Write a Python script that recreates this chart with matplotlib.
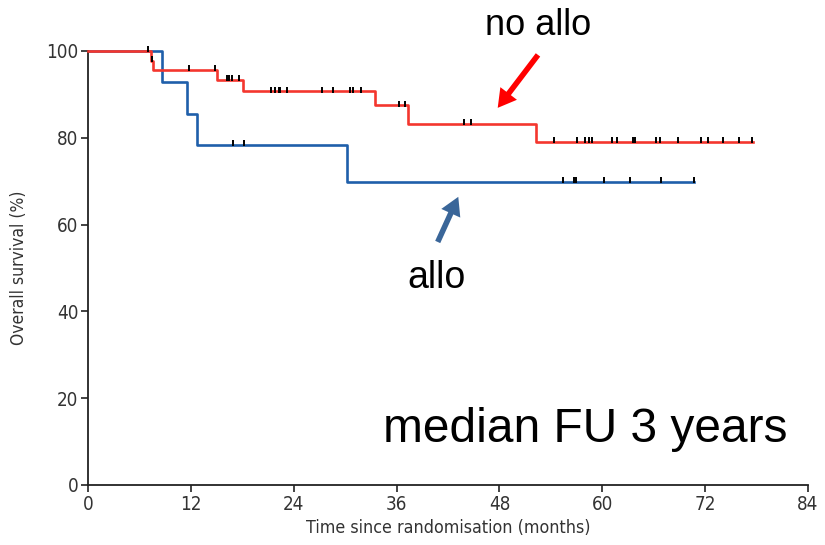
import numpy as np
import matplotlib
matplotlib.use("Agg")
import matplotlib.pyplot as plt

# ---- data ----
red_times = [0, 7.4, 7.6, 15.0, 18.1, 33.5, 37.3, 52.3, 77.6]
red_surv = [100, 97.8, 95.6, 93.3, 90.7, 87.5, 83.2, 79.0, 79.0]
red_censor = [7.0, 7.5, 11.8, 14.8, 16.2, 16.5, 16.8, 17.6, 21.4, 21.8, 22.3, 22.4,
              23.2, 27.3, 28.6, 30.6, 30.9, 31.9, 36.3, 37.0, 43.9, 44.7, 54.4,
              57.1, 58.0, 58.4, 58.8, 61.1, 61.7, 63.6, 63.8, 66.3, 66.7, 68.8,
              71.5, 72.3, 74.1, 75.9, 77.5]

blue_times = [0, 8.6, 11.5, 12.7, 30.2, 70.7]
blue_surv = [100, 92.8, 85.4, 78.3, 69.8, 69.8]
blue_censor = [16.9, 18.2, 55.4, 56.7, 56.9, 60.2, 63.2, 66.9, 70.7]

x_ticks = [0, 12, 24, 36, 48, 60, 72, 84]
y_ticks = [0, 20, 40, 60, 80, 100]

RED = "#F4362E"
BLUE = "#1F5FAA"


def level_at(times, surv, t):
    idx = np.searchsorted(np.asarray(times), np.asarray(t), side="right") - 1
    return np.asarray(surv)[idx]


fig = plt.figure(figsize=(8.25, 5.45), dpi=100)
ax = fig.add_axes([88 / 825, 1 - 485 / 545, 720 / 825, 434 / 545])

ax.step(red_times, red_surv, where="post", color=RED, lw=1.9, clip_on=False, zorder=3)
ax.step(blue_times, blue_surv, where="post", color=BLUE, lw=1.9, clip_on=False, zorder=2)
ax.plot(red_censor, level_at(red_times, red_surv, red_censor) + 0.4, ls="none", marker="|",
        ms=5, mew=1.4, color="black", clip_on=False, zorder=4)
ax.plot(blue_censor, level_at(blue_times, blue_surv, blue_censor) + 0.4, ls="none", marker="|",
        ms=5, mew=1.4, color="black", clip_on=False, zorder=4)

ax.set_xlim(0, 84)
ax.set_ylim(0, 100)
ax.set_xticks(x_ticks)
ax.set_yticks(y_ticks)
for s in ["top", "right"]:
    ax.spines[s].set_visible(False)
for s in ["left", "bottom"]:
    ax.spines[s].set_linewidth(1.3)
    ax.spines[s].set_color("#222222")
ax.tick_params(direction="out", length=5, width=1.2, color="#222222", labelcolor="#333333",
               labelsize=13.5, pad=2)
for lab in ax.get_xticklabels() + ax.get_yticklabels():
    lab.set_fontfamily("DejaVu Sans")
    lab.set_fontstretch("condensed")

ax.set_xlabel("Time since randomisation (months)", fontsize=12.8, color="#333333",
              fontfamily="DejaVu Sans", fontstretch="condensed", labelpad=4)
ax.set_ylabel("Overall survival (%)", fontsize=12.5, color="#333333",
              fontfamily="DejaVu Sans", fontstretch="condensed", labelpad=13)

tfont = dict(fontfamily="Liberation Sans", color="black", clip_on=False)
ax.text(52.5, 103.7, "no allo", fontsize=26, ha="center", va="baseline", **tfont)
ax.text(40.7, 45.4, "allo", fontsize=27, ha="center", va="baseline", **tfont)
ax.text(34.4, 10.0, "median FU 3 years", fontsize=34.5, ha="left", va="baseline", **tfont)

ax.annotate("", xy=(47.8, 86.9), xytext=(52.5, 99.1),
            arrowprops=dict(arrowstyle="simple,head_length=1.3,head_width=1.5,tail_width=0.4",
                            mutation_scale=10, color="#FF0000", lw=0, shrinkA=0, shrinkB=0),
            annotation_clip=False)
ax.annotate("", xy=(43.2, 66.4), xytext=(40.8, 56.0),
            arrowprops=dict(arrowstyle="simple,head_length=1.3,head_width=1.5,tail_width=0.4",
                            mutation_scale=10, color="#3A6699", lw=0, shrinkA=0, shrinkB=0),
            annotation_clip=False)

fig.savefig("out.png", dpi=100)
